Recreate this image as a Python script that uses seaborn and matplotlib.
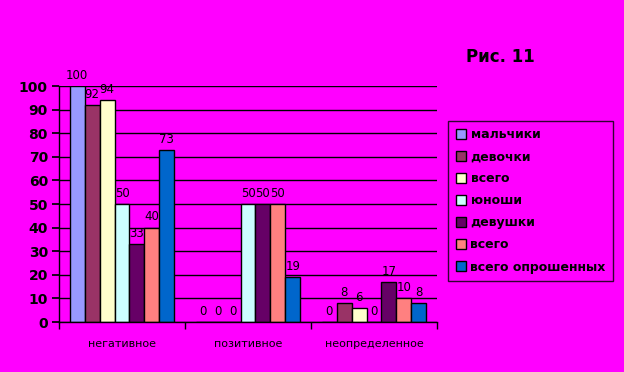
import matplotlib
matplotlib.use("Agg")
import matplotlib.pyplot as plt
import seaborn as sns
import pandas as pd

categories = ["негативное", "позитивное", "неопределенное"]
series = ["мальчики", "девочки", "всего", "юноши", "девушки", "всего ", "всего опрошенных"]
values = {
    "мальчики": [100, 0, 0],
    "девочки": [92, 0, 8],
    "всего": [94, 0, 6],
    "юноши": [50, 50, 0],
    "девушки": [33, 50, 17],
    "всего ": [40, 50, 10],
    "всего опрошенных": [73, 19, 8],
}
colors = ["#9999FF", "#993366", "#FFFFCC", "#CCFFFF", "#660066", "#FF8080", "#0066CC"]

rows = []
for s in series:
    for c, v in zip(categories, values[s]):
        rows.append({"cat": c, "series": s, "val": v})
df = pd.DataFrame(rows)

sns.set_theme(style="white")
plt.rcParams['font.family'] = ['DejaVu Sans']
plt.rcParams['text.color'] = 'black'
plt.rcParams['xtick.color'] = 'black'
plt.rcParams['ytick.color'] = 'black'
plt.rcParams['axes.labelcolor'] = 'black'
bg = "#FF00FF"
fig = plt.figure(figsize=(6.24, 3.72), dpi=100, facecolor=bg)
ax = fig.add_axes([59/624, 1-322/372, (437-59)/624, (322-86)/372])
ax.set_facecolor(bg)

sns.barplot(data=df, x="cat", y="val", hue="series", hue_order=series,
            palette=colors, width=0.83, gap=0, edgecolor="black", linewidth=1,
            saturation=1, ax=ax, legend=True, errorbar=None)

ax.set_ylim(0, 100)
ax.set_xlim(-0.5, 2.5)
ax.set_yticks(range(0, 101, 10))
ax.yaxis.grid(True, color="black", linewidth=1)
ax.set_axisbelow(True)
for sp in ["top", "right"]:
    ax.spines[sp].set_visible(False)
for sp in ["left", "bottom"]:
    ax.spines[sp].set_color("black")
    ax.spines[sp].set_linewidth(1)
ax.set_xlabel("")
ax.set_ylabel("")
ax.tick_params(axis="y", left=True, length=5, color="black", labelsize=10, pad=3)
for t in ax.get_yticklabels():
    t.set_fontweight("bold")
ax.set_xticks([0, 1, 2])
ax.set_xticklabels(categories, fontsize=8)
ax.tick_params(axis="x", bottom=False, pad=6)
ax.set_xticks([-0.5, 0.5, 1.5, 2.5], minor=True)
ax.tick_params(axis="x", which="minor", bottom=True, length=5, color="black")

for cont in ax.containers:
    labels = [f"{int(v)}" for v in cont.datavalues]
    ax.bar_label(cont, labels=labels, fontsize=8.5, padding=3, color="black")

leg = ax.legend(loc="upper left", bbox_to_anchor=(448/624, 1-121/372),
                bbox_transform=fig.transFigure, frameon=True, fontsize=9,
                handlelength=0.8, handleheight=0.8, labelspacing=0.72,
                borderpad=0.6, handletextpad=0.4, borderaxespad=0,
                fancybox=False)
leg.get_frame().set_facecolor(bg)
leg.get_frame().set_edgecolor("black")
leg.get_frame().set_linewidth(1)
for t in leg.get_texts():
    t.set_fontweight("bold")
    t.set_color("black")

fig.text(500/624, 1-57/372, "Рис. 11", fontsize=12, fontweight="bold",
         ha="center", va="center", color="black")

fig.savefig("out.png", dpi=100, facecolor=bg)
